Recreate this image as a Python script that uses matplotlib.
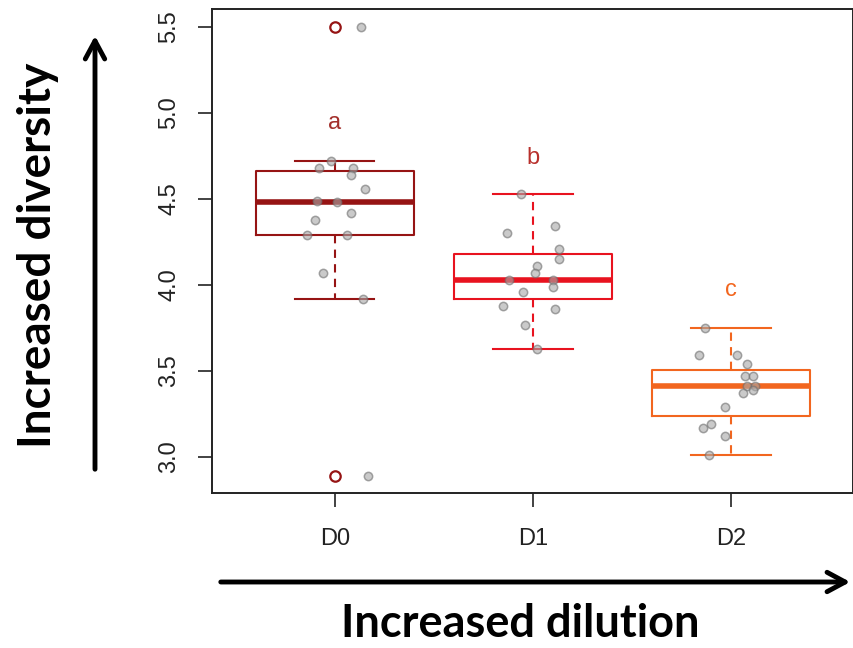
import numpy as np
import matplotlib
matplotlib.use('Agg')
from matplotlib import pyplot as plt

# groups and colours
groups = ["D0", "D1", "D2"]
letters = ["a", "b", "c"]
colors = ["#961414", "#E8131F", "#F2661F"]
letter_colors = ["#A3302C", "#B8302C", "#F2661F"]

# diversity values, with horizontal jitter used for the grey dots
d0 = [5.50, 4.72, 4.68, 4.68, 4.64, 4.56, 4.49, 4.48, 4.42, 4.38, 4.29, 4.29, 4.07, 3.92, 2.89]
d0_jit = [0.13, -0.02, -0.08, 0.09, 0.08, 0.15, -0.09, 0.01, 0.08, -0.10, -0.14, 0.06, -0.06, 0.14, 0.17]
d1 = [4.53, 4.30, 4.34, 4.21, 4.15, 4.11, 4.07, 4.03, 4.03, 3.99, 3.96, 3.88, 3.86, 3.77, 3.63]
d1_jit = [-0.06, -0.13, 0.11, 0.13, 0.13, 0.02, 0.01, -0.12, 0.10, 0.10, -0.05, -0.15, 0.11, -0.04, 0.02]
d2 = [3.75, 3.59, 3.59, 3.54, 3.47, 3.47, 3.41, 3.41, 3.39, 3.37, 3.29, 3.19, 3.17, 3.12, 3.01]
d2_jit = [-0.13, -0.16, 0.03, 0.08, 0.07, 0.11, 0.08, 0.12, 0.11, 0.06, -0.03, -0.10, -0.14, -0.03, -0.11]
letter_y = [4.94, 4.74, 3.97]
yticks = [3.0, 3.5, 4.0, 4.5, 5.0, 5.5]

data = [d0, d1, d2]
jitter = [d0_jit, d1_jit, d2_jit]

W, H = 854, 648
fig = plt.figure(figsize=(W / 100, H / 100), dpi=100)
ax = fig.add_axes([212 / W, 1 - 493 / H, (853 - 212) / W, (493 - 9) / H])

for i, (vals, col) in enumerate(zip(data, colors)):
    pos = i + 1
    ax.boxplot(vals, positions=[pos], widths=0.8, whis=1.5, capwidths=0.4,
               patch_artist=False,
               boxprops=dict(color=col, linewidth=1.5),
               whiskerprops=dict(color=col, linewidth=1.5, linestyle=(0, (4, 3))),
               capprops=dict(color=col, linewidth=1.5),
               medianprops=dict(color=col, linewidth=4),
               flierprops=dict(marker='o', markerfacecolor='none', markeredgecolor=col,
                               markersize=7.5, markeredgewidth=1.6))
    xs = pos + np.array(jitter[i])
    ax.plot(xs, vals, 'o', ls='none', markersize=6, markerfacecolor='#A8A8A8',
            markeredgecolor='#6E6E6E', markeredgewidth=1.1, alpha=0.6, zorder=5)
    ax.text(pos, letter_y[i], letters[i], color=letter_colors[i], fontsize=17,
            ha='center', va='center', family='Liberation Sans')

ax.set_xlim(0.38, 3.616)
ax.set_ylim(2.79, 5.605)
ax.set_xticks([1, 2, 3])
ax.set_xticklabels(groups, family='Liberation Sans', fontsize=17, color='#222222')
ax.set_yticks(yticks)
ax.set_yticklabels([f"{v:.1f}" for v in yticks], rotation=90, va='center',
                   family='Liberation Sans', fontsize=17, color='#222222')
ax.tick_params(axis='both', length=10, width=1.2, color='#222222')
ax.tick_params(axis='x', pad=15)
ax.tick_params(axis='y', pad=13)
for sp in ax.spines.values():
    sp.set_linewidth(1.4)
    sp.set_color('#222222')

# arrows and axis titles drawn in figure pixels
def px(x, y):
    return (x / W, 1 - y / H)

fig.add_artist(matplotlib.patches.FancyArrowPatch(
    px(95, 472), px(95, 33), transform=fig.transFigure,
    arrowstyle='->,head_length=13,head_width=7', linewidth=3.5, color='black',
    mutation_scale=1))
fig.add_artist(matplotlib.patches.FancyArrowPatch(
    px(218, 582), px(853, 582), transform=fig.transFigure,
    arrowstyle='->,head_length=13,head_width=7', linewidth=3.5, color='black',
    mutation_scale=1))

fig.text(*px(38, 255), "Increased diversity", rotation=90, ha='center', va='center',
         fontsize=33, fontweight='bold', family='Lato')
fig.text(*px(520, 624), "Increased dilution", ha='center', va='center',
         fontsize=32.5, fontweight='bold', family='Lato')

fig.savefig("out.png", dpi=100)
